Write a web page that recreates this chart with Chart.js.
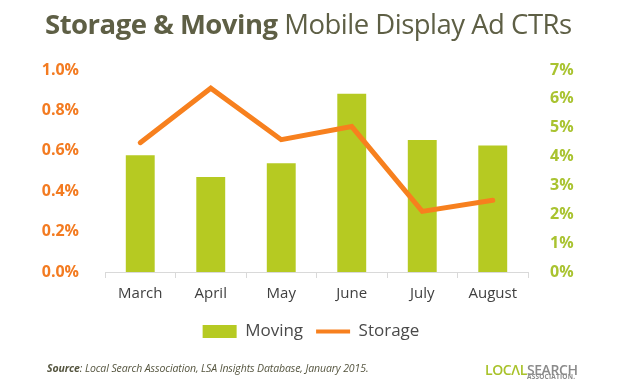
<!DOCTYPE html>
<html>
<head>
<meta charset="utf-8">
<script src="https://cdn.jsdelivr.net/npm/chart.js@4.4.1/dist/chart.umd.min.js"></script>
<style>
html,body{margin:0;padding:0;background:#fff;}
#wrap{position:relative;width:622px;height:384px;overflow:hidden;}
#title{position:absolute;left:45px;top:10px;font-family:"Open Sans",sans-serif;font-size:27.5px;letter-spacing:-0.5px;line-height:1;color:#5e5f45;white-space:nowrap;}
#title b{font-weight:700;}
#source{position:absolute;left:47px;top:361px;font-family:"Open Sans",sans-serif;font-size:10.5px;letter-spacing:-0.1px;font-style:italic;color:#55553f;white-space:nowrap;}
#logo{position:absolute;left:485px;top:358px;font-family:"Open Sans",sans-serif;white-space:nowrap;}
#logo .main{font-size:14px;font-weight:600;letter-spacing:-0.4px;line-height:1;}
#logo .g{color:#a8c22a;}
#logo .s{color:#8a8a8a;}
#logo .sub{position:absolute;left:42px;top:14px;font-size:6.5px;font-weight:700;color:#8a8a8a;letter-spacing:0.2px;}
</style>
</head>
<body>
<div id="wrap">
<canvas id="chart" width="622" height="384"></canvas>
<div id="title"><b>Storage &amp; Moving</b> Mobile Display Ad CTRs</div>
<div id="source"><b>Source</b>: Local Search Association, LSA Insights Database, January 2015.</div>
<div id="logo"><span class="main"><span class="g">LOC&Lambda;L</span><span class="s">SEARCH</span></span><span class="sub">ASSOCIATION.</span></div>
</div>
<script>
let months = ["March","April","May","June","July","August"]
let moving = [4.05, 3.29, 3.77, 6.18, 4.57, 4.38]
let storage = [0.64, 0.91, 0.655, 0.72, 0.30, 0.355]

let orange = "#f7801e"
let green = "#b6ca22"

new Chart(document.getElementById("chart"),{
type:"bar",
data:{
labels:months,
datasets:[{
label:"Moving",
data:moving,
backgroundColor:green,
borderWidth:0,
yAxisID:"y1",
categoryPercentage:1,
barPercentage:0.41,
order:1
},{
type:"line",
label:"Storage",
data:storage,
borderColor:orange,
backgroundColor:orange,
borderWidth:5,
pointRadius:0,
borderCapStyle:"round",
borderJoinStyle:"miter",
tension:0,
yAxisID:"y",
order:0
}]
},
options:{
responsive:false,
animation:false,
layout:{padding:{top:70,left:0,right:0,bottom:34}},
plugins:{
title:{display:false},
tooltip:{enabled:false},
legend:{
position:"bottom",
labels:{
usePointStyle:true,
pointStyleWidth:34,
boxHeight:13,
padding:13,
color:"#4a4a4a",
font:{family:"Open Sans",size:17},
generateLabels(chart){
let items = Chart.defaults.plugins.legend.labels.generateLabels(chart)
items.sort((a,b)=>a.datasetIndex-b.datasetIndex)
items[0].pointStyle = "rect"
items[0].fillStyle = green
items[0].lineWidth = 0
items[1].pointStyle = "line"
items[1].strokeStyle = orange
items[1].lineWidth = 4
return items
}
}
}
},
scales:{
x:{
grid:{display:true,drawOnChartArea:false,drawTicks:true,tickLength:6,color:"#d9d9d9",offset:true},
border:{color:"#d9d9d9"},
ticks:{color:"#404040",padding:7,font:{family:"Open Sans",size:15}}
},
y:{
position:"left",
min:0,max:1.0,
grid:{display:false},
border:{display:false},
afterFit(s){s.width=105},
ticks:{stepSize:0.2,padding:18,color:"#f37b21",font:{family:"Open Sans",size:16,weight:"bold"},
callback:v=>v.toFixed(1)+"%"}
},
y1:{
position:"right",
min:0,max:7,
grid:{display:false},
border:{display:false},
afterFit(s){s.width=94},
ticks:{stepSize:1,padding:14,color:"#a9c330",font:{family:"Open Sans",size:16,weight:"bold"},
callback:v=>v+"%"}
}
}
}
})
</script>
</body>
</html>
